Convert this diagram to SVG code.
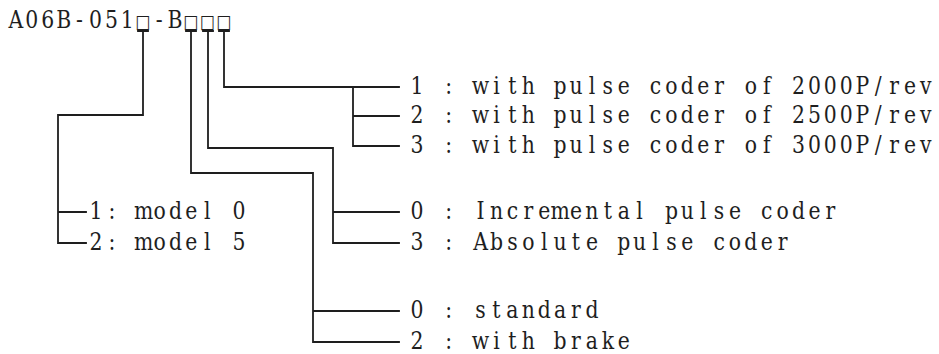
<svg xmlns="http://www.w3.org/2000/svg" width="939" height="354" viewBox="0 0 939 354">
  <style>
    /* typewriter-style setting: glyphs centred in fixed cells, text groups narrowed to 85% */
    .t { font-family: "DejaVu Serif", "Liberation Serif", serif; font-size: 24px; fill: #1e1e1e; text-anchor: middle; }
    .box { font-family: "DejaVu Sans", sans-serif; font-size: 19px; }
    .ln { fill: none; stroke: #1e1e1e; stroke-width: 1.8; stroke-linejoin: miter; stroke-linecap: square; }
  </style>
  <rect width="939" height="354" fill="#ffffff"/>

  <!-- part number with code positions -->
  <g id="part-number" transform="scale(0.85 1)">
    <text class="t" x="18.8 37.5 56.2 74.9 93.6 112.4 131.1 149.8" y="28">A06B-051<tspan class="box" x="168.2">□</tspan><tspan x="187.2 205.9">-B</tspan><tspan class="box" x="224.7 244.1 263.5">□□□</tspan></text>
  </g>

  <!-- leader lines from each code position to its options -->
  <g id="connectors" class="ln">
    <!-- model -->
    <path d="M138,31 H148 M143,31 V115 H58 V243 H86 M58,212 H86"/>
    <!-- brake -->
    <path d="M186,31 H196 M191,31 V173 H313 V342 H399 M313,311 H399"/>
    <!-- pulse coder type -->
    <path d="M203,31 H213 M208,31 V148 H333 V243 H399 M333,212 H399"/>
    <!-- pulse coder resolution -->
    <path d="M219,31 H229 M224,31 V87 H399 M353,87 V146 H399 M353,116 H399"/>
  </g>

  <g id="opt-model" transform="scale(0.85 1)">
    <text class="t" x="112.9 131.6 150.4 169.1 187.8 206.5 225.2 243.9 262.6 281.3" y="219">1: model 0</text>
    <text class="t" x="112.9 131.6 150.4 169.1 187.8 206.5 225.2 243.9 262.6 281.3" y="250">2: model 5</text>
  </g>

  <g id="opt-resolution" transform="scale(0.85 1)">
    <text class="t" x="490.6 509.3 528 546.7 565.4 584.1 602.8 621.5 640.2 658.9 677.6 696.4 715.1 733.8 752.5 771.2 789.9 808.6 827.3 846 864.7 883.4 902.1 920.8 939.5 958.2 976.9 995.6 1014.4 1033.1 1051.8 1070.5 1089.2" y="94">1 : with pulse coder of 2000P/rev</text>
    <text class="t" x="490.6 509.3 528 546.7 565.4 584.1 602.8 621.5 640.2 658.9 677.6 696.4 715.1 733.8 752.5 771.2 789.9 808.6 827.3 846 864.7 883.4 902.1 920.8 939.5 958.2 976.9 995.6 1014.4 1033.1 1051.8 1070.5 1089.2" y="123">2 : with pulse coder of 2500P/rev</text>
    <text class="t" x="490.6 509.3 528 546.7 565.4 584.1 602.8 621.5 640.2 658.9 677.6 696.4 715.1 733.8 752.5 771.2 789.9 808.6 827.3 846 864.7 883.4 902.1 920.8 939.5 958.2 976.9 995.6 1014.4 1033.1 1051.8 1070.5 1089.2" y="153">3 : with pulse coder of 3000P/rev</text>
  </g>

  <g id="opt-coder-type" transform="scale(0.85 1)">
    <text class="t" x="490.6 509.3 528 546.7 565.4 584.1 602.8 621.5 640.2 658.9 677.6 696.4 715.1 733.8 752.5 771.2 789.9 808.6 827.3 846 864.7 883.4 902.1 920.8 939.5 958.2 976.9" y="219">0 : Incremental pulse coder</text>
    <text class="t" x="490.6 509.3 528 546.7 565.4 584.1 602.8 621.5 640.2 658.9 677.6 696.4 715.1 733.8 752.5 771.2 789.9 808.6 827.3 846 864.7 883.4 902.1 920.8" y="250">3 : Absolute pulse coder</text>
  </g>

  <g id="opt-brake" transform="scale(0.85 1)">
    <text class="t" x="490.6 509.3 528 546.7 565.4 584.1 602.8 621.5 640.2 658.9 677.6 696.4" y="318">0 : standard</text>
    <text class="t" x="490.6 509.3 528 546.7 565.4 584.1 602.8 621.5 640.2 658.9 677.6 696.4 715.1 733.8" y="349">2 : with brake</text>
  </g>
</svg>
